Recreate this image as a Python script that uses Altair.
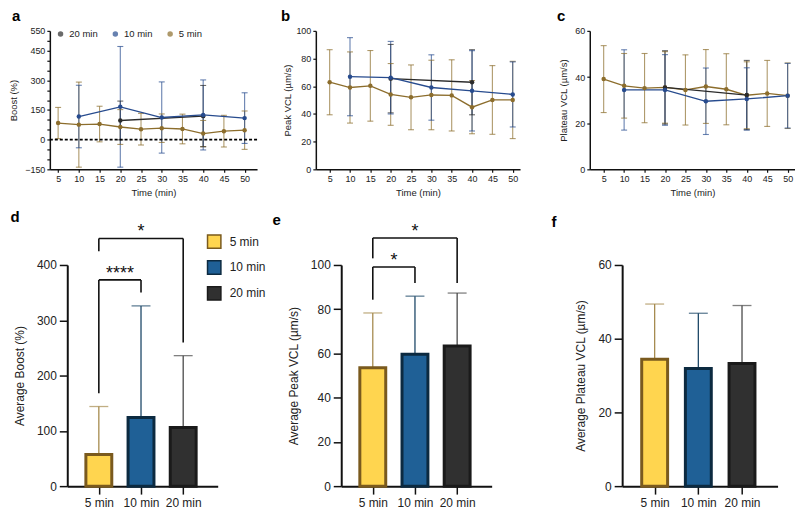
import altair as alt
import pandas as pd

# ---------------- data ----------------
times = [5, 10, 15, 20, 25, 30, 35, 40, 45, 50]
times_10 = [10, 20, 30, 40, 50]
times_20 = [20, 40]
groups = ["5 min", "10 min", "20 min"]
legend_order = ["20 min", "10 min", "5 min"]

boost_5_mean = [84, 76, 79, 64, 53, 58, 54, 31, 43, 48]
boost_5_sd = [79, 215, 90, 88, 80, 72, 75, 66, 80, 97]
boost_10_mean = [117, 166, 112, 125, 109]
boost_10_sd = [158, 305, 180, 177, 128]
boost_20_mean = [97, 119]
boost_20_sd = [98, 155]

peak_5_mean = [62.9, 59.1, 60.3, 54.1, 52.0, 53.7, 53.4, 44.9, 50.1, 50.1]
peak_5_sd = [23.5, 25.7, 25.5, 22.3, 23.4, 25.1, 25.7, 19.2, 24.8, 27.9]
peak_10_mean = [66.9, 66.2, 59.1, 56.7, 54.1]
peak_10_sd = [28.2, 26.2, 23.6, 29.0, 23.5]
peak_20_mean = [65.5, 62.9]
peak_20_sd = [24.7, 23.5]

plat_5_mean = [39.1, 36.2, 35.2, 35.5, 34.4, 35.9, 34.7, 32.1, 32.9, 31.9]
plat_5_sd = [14.5, 14.0, 15.0, 15.5, 15.2, 16.0, 15.4, 14.5, 14.3, 14.2]
plat_10_mean = [34.4, 34.4, 29.5, 30.5, 31.9]
plat_10_sd = [17.4, 15.3, 14.4, 13.5, 14.0]
plat_20_mean = [35.5, 32.2]
plat_20_sd = [15.9, 15.0]

group_pos = [1, 2, 3]
avg_boost_mean = [57, 124, 106]
avg_boost_sd = [87, 202, 130]
avg_peak_mean = [53.5, 59.6, 63.4]
avg_peak_sd = [24.8, 26.3, 23.9]
avg_plat_mean = [34.4, 31.9, 33.3]
avg_plat_sd = [15.0, 15.0, 15.7]

# significance brackets: left pos, right pos, bracket level, left leg end, right leg end, label
boost_brackets = [(1, 3, 448, 425, 260, "*"), (1, 2, 373, 168, 350, "****")]
peak_brackets = [(1, 3, 112.2, 103, 91.9, "*"), (1, 2, 99.1, 84.3, 91.9, "*")]

# ---------------- styles ----------------
FONT = "Liberation Sans"
line_range = ["#2b2b2b", "#274b8e", "#8c6d2c"]      # 20, 10, 5 min
line_col = dict(zip(legend_order, line_range))
bar_fill = ["#ffd54f", "#1f6096", "#303030"]          # 5, 10, 20 min
bar_stroke = ["#7a5a1e", "#0c2a40", "#1a1a1a"]
err_color = ["#a68b4f", "#1e4868", "#4a4a4a"]


def series_frame(m5, s5, m10, s10, m20, s20):
    rows = []
    for grp, ts, ms, ss in [("5 min", times, m5, s5), ("20 min", times_20, m20, s20),
                            ("10 min", times_10, m10, s10)]:
        for t, m, s in zip(ts, ms, ss):
            rows.append(dict(grp=grp, lc=line_col[grp], t=t, mean=m, lo=m - s, hi=m + s))
    return pd.DataFrame(rows)


def panel_title(text, dx, offset):
    return alt.TitleParams(text=text, anchor="start", frame="group", dx=dx, offset=offset,
                           fontSize=15, fontWeight="bold", color="#000", baseline="alphabetic",
                           font=FONT)


def top_panel(df, label, dx, ytitle, ydom, yvals, yshown, xdom, width, tpad,
              legend=False, zero_line=False):
    xs = alt.Scale(domain=xdom, nice=False, zero=False)
    ys = alt.Scale(domain=ydom, nice=False, zero=False)
    xax = alt.Axis(values=times, title="Time (min)", labelFontSize=9, titleFontSize=9.5,
                   tickSize=3, labelPadding=2, titlePadding=4, domainWidth=1.5, tickWidth=1.2,
                   labelFlush=False, labelOverlap=False, grid=False)
    shown = ",".join(str(v) for v in yshown)
    yax = alt.Axis(values=yvals, title=ytitle, labelExpr=f"indexof([{shown}], datum.value) >= 0 ? datum.label : ''",
                   labelFontSize=9, titleFontSize=9.5, tickSize=3, labelPadding=2, titlePadding=tpad,
                   domainWidth=1.5, tickWidth=1.2, labelFlush=False, labelOverlap=False, grid=False)

    def X():
        return alt.X("t:Q", scale=xs, axis=xax)

    def Y(f):
        return alt.Y(f"{f}:Q", scale=ys, axis=yax)

    lit = alt.Color("lc:N", scale=None)
    leg = None
    if legend:
        leg = alt.Legend(orient="none", legendX=6, legendY=-2, direction="horizontal", title=None,
                         symbolType="circle", symbolSize=30, symbolStrokeWidth=1, symbolOpacity=1,
                         labelFontSize=9.5, labelColor="#222", labelFont=FONT, columnPadding=12,
                         labelOffset=4, padding=0)
    base = alt.Chart(df)
    err = base.mark_rule(strokeWidth=1.1, opacity=0.7).encode(x=X(), y=Y("lo"), y2="hi:Q", color=lit)
    cap_lo = base.mark_tick(orient="horizontal", size=6, thickness=1.1, opacity=0.7).encode(
        x=X(), y=Y("lo"), color=lit)
    cap_hi = base.mark_tick(orient="horizontal", size=6, thickness=1.1, opacity=0.7).encode(
        x=X(), y=Y("hi"), color=lit)
    line = base.mark_line(strokeWidth=1.3).encode(x=X(), y=Y("mean"), color=lit)
    pts = base.mark_point(filled=True, size=20, opacity=1).encode(
        x=X(), y=Y("mean"),
        color=alt.Color("grp:N", scale=alt.Scale(domain=legend_order, range=line_range), legend=leg))
    layers = [err, cap_lo, cap_hi]
    if zero_line:
        z = alt.Chart(pd.DataFrame({"z": [0]})).mark_rule(
            color="#000", strokeDash=[3, 2], strokeWidth=1.6).encode(y=alt.Y("z:Q", scale=ys, axis=yax))
        layers.append(z)
    layers += [line, pts]
    return alt.layer(*layers).properties(width=width, height=139, title=panel_title(label, dx, -9))


def bar_panel(means, sds, label, dx, toff, ytitle, ydom, yvals, width, brackets=None, legend=False):
    df = pd.DataFrame(dict(pos=group_pos, grp=groups, mean=means,
                           hi=[m + s for m, s in zip(means, sds)], ecol=err_color))
    xs = alt.Scale(domain=[0.37, 3.70], nice=False, zero=False)
    ys = alt.Scale(domain=ydom, nice=False, zero=False)
    names = ",".join(f"'{g}'" for g in groups)
    xax = alt.Axis(values=group_pos, labelExpr=f"[{names}][datum.value - 1]", title=None,
                   labelFontSize=12, tickSize=8, tickWidth=1.5, domainWidth=2, labelPadding=3,
                   labelFlush=False, labelOverlap=False, grid=False)
    yax = alt.Axis(values=yvals, title=ytitle, labelFontSize=12, titleFontSize=12, tickSize=8,
                   tickWidth=1.5, domainWidth=2, labelPadding=3, titlePadding=10,
                   labelFlush=False, labelOverlap=False, grid=False)

    def X(f):
        return alt.X(f"{f}:Q", scale=xs, axis=xax)

    def Y(f):
        return alt.Y(f"{f}:Q", scale=ys, axis=yax)

    leg = None
    if legend:
        leg = alt.Legend(orient="none", legendX=140, legendY=-31, title=None, symbolType="square",
                         symbolSize=180, symbolStrokeWidth=1.5, labelFontSize=12, labelColor="#222",
                         labelFont=FONT, rowPadding=5, labelOffset=8)
    base = alt.Chart(df)
    erule = base.mark_rule(strokeWidth=1.3).encode(x=X("pos"), y=Y("mean"), y2="hi:Q",
                                                    color=alt.Color("ecol:N", scale=None))
    ecap = base.mark_tick(orient="horizontal", size=19, thickness=1.3).encode(
        x=X("pos"), y=Y("hi"), color=alt.Color("ecol:N", scale=None))
    bars = base.mark_bar(orient="vertical", width=26, strokeWidth=3).encode(
        x=X("pos"), y=Y("mean"),
        fill=alt.Fill("grp:N", scale=alt.Scale(domain=groups, range=bar_fill), legend=leg),
        stroke=alt.Stroke("grp:N", scale=alt.Scale(domain=groups, range=bar_stroke), legend=leg))
    layers = [erule, ecap, bars]
    if brackets:
        hdf = pd.DataFrame([dict(x1=b[0], x2=b[1], y=b[2]) for b in brackets])
        vrows = []
        for b in brackets:
            vrows.append(dict(x=b[0], y=b[2], y2=b[3]))
            vrows.append(dict(x=b[1], y=b[2], y2=b[4]))
        vdf = pd.DataFrame(vrows)
        sdf = pd.DataFrame([dict(x=(b[0] + b[1]) / 2, y=b[2], s=b[5]) for b in brackets])
        layers.append(alt.Chart(hdf).mark_rule(strokeWidth=1.6, color="#111").encode(
            x=X("x1"), x2="x2:Q", y=Y("y")))
        layers.append(alt.Chart(vdf).mark_rule(strokeWidth=1.6, color="#111").encode(
            x=X("x"), y=Y("y"), y2="y2:Q"))
        layers.append(alt.Chart(sdf).mark_text(fontSize=18, baseline="alphabetic", dy=-1,
                                               color="#111", font=FONT).encode(
            x=X("x"), y=Y("y"), text="s:N"))
    return alt.layer(*layers).properties(width=width, height=222, title=panel_title(label, dx, toff))


a = top_panel(series_frame(boost_5_mean, boost_5_sd, boost_10_mean, boost_10_sd, boost_20_mean, boost_20_sd),
              "a", -38, "Boost (%)", [-150, 550], list(range(-150, 551, 50)), [-150, 0, 150, 300, 450, 550],
              [3, 53], 208, 6, legend=True, zero_line=True)
b = top_panel(series_frame(peak_5_mean, peak_5_sd, peak_10_mean, peak_10_sd, peak_20_mean, peak_20_sd),
              "b", -35, "Peak VCL (µm/s)", [0, 100], [0, 20, 40, 60, 80, 100], [0, 20, 40, 60, 80, 100],
              [1.6, 51.8], 205, 3)
c = top_panel(series_frame(plat_5_mean, plat_5_sd, plat_10_mean, plat_10_sd, plat_20_mean, plat_20_sd),
              "c", -33, "Plateau VCL (µm/s)", [0, 60], [0, 20, 40, 60], [0, 20, 40, 60],
              [1.6, 51.8], 206, 6)

d = bar_panel(avg_boost_mean, avg_boost_sd, "d", -57, -14, "Average Boost (%)", [0, 400],
              [0, 100, 200, 300, 400], 151, brackets=boost_brackets, legend=True)
e = bar_panel(avg_peak_mean, avg_peak_sd, "e", -69, -17, "Average Peak VCL (µm/s)", [0, 100],
              [0, 20, 40, 60, 80, 100], 151, brackets=peak_brackets)
f = bar_panel(avg_plat_mean, avg_plat_sd, "f", -71, 17, "Average Plateau VCL (µm/s)", [0, 60],
              [0, 20, 40, 60], 156)

res = dict(color="independent", fill="independent", stroke="independent")
top = alt.hconcat(alt.hconcat(a, b, spacing=23).resolve_scale(**res), c, spacing=37).resolve_scale(**res)
bottom = alt.hconcat(alt.hconcat(d, e, spacing=6).resolve_scale(**res), f, spacing=60).resolve_scale(**res)
chart = alt.vconcat(top, bottom, spacing=13, center=True).resolve_scale(**res)
chart = chart.properties(padding=0, background="white")
chart = chart.configure(font=FONT).configure_view(stroke=None).configure_axis(
    grid=False, domainColor="#111", tickColor="#111", labelColor="#222", titleColor="#222",
    titleFontWeight="normal", labelFont=FONT, titleFont=FONT)

chart.save("out.html", embed_options={"renderer": "svg", "actions": False})
